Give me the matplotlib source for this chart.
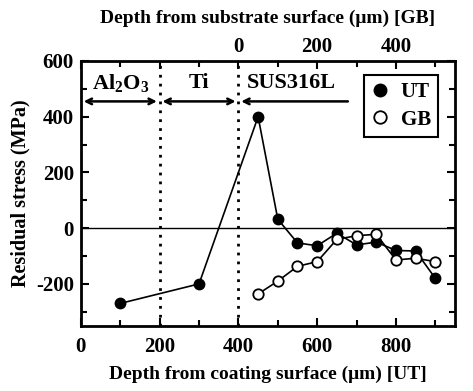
import matplotlib.pyplot as plt
from matplotlib.ticker import MultipleLocator

# Data
ut_depth = [100, 300, 450, 500, 550, 600, 650, 700, 750, 800, 850, 900]
ut_stress = [-270, -200, 400, 32, -53, -63, -18, -60, -50, -80, -82, -180]

gb_depth = [50, 100, 150, 200, 250, 300, 350, 400, 450, 500]  # from substrate surface
gb_stress = [-236, -190, -137, -120, -40, -27, -22, -114, -108, -120]

coating_offset = 400
boundaries = [200, 400]
layers = ["Al$_2$O$_3$", "Ti", "SUS316L"]

plt.rcParams["font.family"] = ["Liberation Serif", "DejaVu Serif"]
plt.rcParams["font.weight"] = "bold"
plt.rcParams["mathtext.default"] = "regular"
plt.rcParams["axes.unicode_minus"] = False

fig = plt.figure(figsize=(4.73, 3.91), dpi=100)
ax = fig.add_axes([0.171, 0.167, 0.791, 0.677])

ax.axhline(0, color="black", linewidth=1.0, zorder=1)
for b in boundaries:
    ax.axvline(b, color="black", linestyle=(0, (1, 2.2)), linewidth=2.0, zorder=1)

ax.plot(ut_depth, ut_stress, marker="o", color="black", markersize=7.5,
        linewidth=1.2, label="UT", zorder=3)
ax.plot([d + coating_offset for d in gb_depth], gb_stress, marker="o",
        color="black", markerfacecolor="white", markeredgewidth=1.3,
        markersize=7.5, linewidth=1.2, label="GB", zorder=3)

# Layer arrows
arrow_y = 455
ax.annotate("", xy=(0, arrow_y), xytext=(200, arrow_y),
            arrowprops=dict(arrowstyle="<->", color="black", lw=1.8))
ax.annotate("", xy=(200, arrow_y), xytext=(400, arrow_y),
            arrowprops=dict(arrowstyle="<->", color="black", lw=1.8))
ax.annotate("", xy=(400, arrow_y), xytext=(685, arrow_y),
            arrowprops=dict(arrowstyle="->", color="black", lw=1.8))
ax.text(100, 520, layers[0], ha="center", va="center", fontsize=16, fontweight="bold")
ax.text(300, 520, layers[1], ha="center", va="center", fontsize=16, fontweight="bold")
ax.text(422, 520, layers[2], ha="left", va="center", fontsize=16, fontweight="bold")

ax.set_xlim(0, 950)
ax.set_ylim(-350, 600)
ax.xaxis.set_major_locator(MultipleLocator(200))
ax.xaxis.set_minor_locator(MultipleLocator(100))
ax.yaxis.set_major_locator(MultipleLocator(200))
ax.yaxis.set_minor_locator(MultipleLocator(100))
ax.tick_params(which="both", direction="in", right=True, width=1.5, labelsize=15)
ax.tick_params(which="major", length=6, pad=5)
ax.tick_params(axis="x", which="major", pad=8)
ax.tick_params(which="minor", length=4)
for s in ax.spines.values():
    s.set_linewidth(2.0)

ax.set_xlabel("Depth from coating surface (μm) [UT]", fontsize=14,
              fontweight="bold", labelpad=6.5)
ax.set_ylabel("Residual stress (MPa)", fontsize=14.5, fontweight="bold",
              labelpad=4)

top = ax.secondary_xaxis("top", functions=(lambda x: x - coating_offset,
                                           lambda x: x + coating_offset))
top.set_xticks([-400, -200, 0, 200, 400], ["", "", "0", "200", "400"])
top.xaxis.set_minor_locator(MultipleLocator(100))
top.tick_params(which="both", direction="in", width=1.5, labelsize=15)
top.tick_params(which="major", length=6, pad=3)
top.tick_params(which="minor", length=4)
top.set_xlabel("Depth from substrate surface (μm) [GB]", fontsize=14,
               fontweight="bold", labelpad=10)

leg = ax.legend(loc="upper right", bbox_to_anchor=(0.955, 0.947), fontsize=15,
                fancybox=False, edgecolor="black", framealpha=1,
                borderaxespad=0, handlelength=0.8, handletextpad=0.6,
                borderpad=0.35, labelspacing=0.35, markerscale=1.2)
leg.get_frame().set_linewidth(1.5)
for h in leg.legend_handles:
    h.set_linestyle("none")

fig.savefig("out.png", dpi=100)
